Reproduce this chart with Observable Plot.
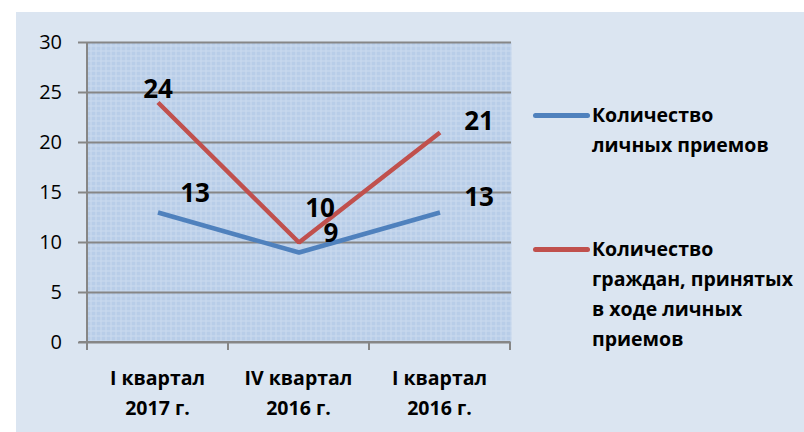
<!DOCTYPE html>
<html>
<head>
<meta charset="utf-8">
<script src="https://cdn.jsdelivr.net/npm/d3@7"></script>
<script src="https://cdn.jsdelivr.net/npm/@observablehq/plot@0.6"></script>
<style>
  html, body { margin: 0; padding: 0; background: #ffffff; }
  #wrap { position: relative; width: 804px; height: 432px; overflow: hidden; }
  #bg { position: absolute; left: 16px; top: 12px; width: 788px; height: 420px; background: #dbe5f1; }
  #chart { position: absolute; left: 0; top: 0; }
  .leg { position: absolute; font-family: "Open Sans", "DejaVu Sans", sans-serif; font-weight: 700; font-size: 19.5px; line-height: 30px; color: #000; white-space: nowrap; }
  .leg .sw { position: absolute; left: -59px; top: 13px; width: 57px; height: 5px; border-radius: 3px; }
</style>
</head>
<body>
<div id="wrap">
  <div id="bg"></div>
  <div id="chart"></div>
</div>
<script>
const categories = ["I квартал\n2017 г.", "IV квартал\n2016 г.", "I квартал\n2016 г."];
const seriesNames = ["Количество\nличных приемов", "Количество\nграждан, принятых\nв ходе личных\nприемов"];
const receptions = [13, 9, 13];
const citizens = [24, 10, 21];
const yTicks = [0, 5, 10, 15, 20, 25, 30];
const colors = ["#4f81bd", "#c0504d"];

const rows = [];
categories.forEach((c, i) => {
  rows.push({cat: c, value: receptions[i], series: seriesNames[0], s: 0, i});
  rows.push({cat: c, value: citizens[i], series: seriesNames[1], s: 1, i});
});

// label placement (styling only)
const labelDx = [[37, 32, 39], [0, 21, 39]];
const labelDy = [[-19, -19, -15], [-13, -34, -11]];

const labelMarks = rows.map(r => Plot.text([r], {
  x: "cat", y: "value", text: d => String(d.value),
  dx: labelDx[r.s][r.i], dy: labelDy[r.s][r.i],
  fontSize: 26, fontWeight: 700, fill: "#000",
  fontFamily: "'Open Sans', sans-serif"
}));

const plot = Plot.plot({
  width: 804,
  height: 432,
  marginLeft: 86,
  marginRight: 293,
  marginTop: 42,
  marginBottom: 90,
  style: {background: "transparent", fontFamily: "'Open Sans', sans-serif", overflow: "visible"},
  x: {type: "band", domain: categories, padding: 0, label: null, axis: null},
  y: {type: "linear", domain: [0, 30], label: null, axis: null},
  color: {domain: seriesNames, range: colors},
  marks: [
    Plot.frame({fill: "url(#plotpat)", stroke: "none"}),
    Plot.gridY(yTicks, {stroke: "#868686", strokeOpacity: 1, strokeWidth: 2, insetLeft: -8}),
    Plot.line(rows, {x: "cat", y: "value", z: "series", stroke: "series", strokeWidth: 4.5, strokeLinecap: "butt", strokeLinejoin: "miter"}),
    ...labelMarks
  ]
});

// Axes drawn from the plot's own scales
const xs = plot.scale("x"), ys = plot.scale("y");
const svg = d3.select(plot);
const defs = svg.insert("defs", ":first-child");
const pat = defs.append("pattern").attr("id", "plotpat").attr("width", 5).attr("height", 5).attr("patternUnits", "userSpaceOnUse");
pat.append("rect").attr("width", 5).attr("height", 5).attr("fill", "#b8cde8");
pat.append("rect").attr("x", 0).attr("y", 0).attr("width", 5).attr("height", 1).attr("fill", "#cbdaee");
pat.append("rect").attr("x", 0).attr("y", 0).attr("width", 1).attr("height", 5).attr("fill", "#cbdaee");

const g = svg.append("g");
const bw = xs.bandwidth;
const xLeft = xs.apply(categories[0]);
const xRight = xs.apply(categories[categories.length - 1]) + bw;
const yBottom = ys.apply(0), yTop = ys.apply(30);
// left axis line
g.append("line").attr("x1", xLeft).attr("x2", xLeft).attr("y1", yTop).attr("y2", yBottom + 8).attr("stroke", "#868686").attr("stroke-width", 2);
// y tick labels
yTicks.forEach(t => {
  g.append("text").attr("x", xLeft - 25).attr("y", ys.apply(t)).attr("dy", "0.36em").attr("text-anchor", "end")
    .attr("font-family", "'Open Sans', sans-serif").attr("font-size", 20).attr("fill", "#000").text(String(t));
});
// bottom axis line & ticks at band edges
g.append("line").attr("x1", xLeft - 8).attr("x2", xRight).attr("y1", yBottom).attr("y2", yBottom).attr("stroke", "#868686").attr("stroke-width", 2);
const edges = categories.map(c => xs.apply(c)).concat([xRight]);
edges.forEach(x => {
  g.append("line").attr("x1", x).attr("x2", x).attr("y1", yBottom).attr("y2", yBottom + 8).attr("stroke", "#868686").attr("stroke-width", 2);
});
categories.forEach(c => {
  const lines = c.split("\n");
  const t = g.append("text").attr("text-anchor", "middle").attr("font-family", "'Open Sans', sans-serif")
    .attr("font-weight", 700).attr("font-size", 19.5).attr("fill", "#000");
  lines.forEach((ln, k) => {
    t.append("tspan").attr("x", xs.apply(c) + bw / 2).attr("y", yBottom + 43 + k * 30).text(ln);
  });
});

document.getElementById("chart").appendChild(plot);

// Legend (HTML, placed to the right of the plot)
const legTops = [100, 234];
seriesNames.forEach((name, s) => {
  const div = document.createElement("div");
  div.className = "leg";
  div.style.left = "592px";
  div.style.top = legTops[s] + "px";
  const sw = document.createElement("div");
  sw.className = "sw";
  sw.style.background = colors[s];
  div.appendChild(sw);
  name.split("\n").forEach((ln, k) => {
    if (k) div.appendChild(document.createElement("br"));
    div.appendChild(document.createTextNode(ln));
  });
  document.getElementById("wrap").appendChild(div);
});
</script>
</body>
</html>
